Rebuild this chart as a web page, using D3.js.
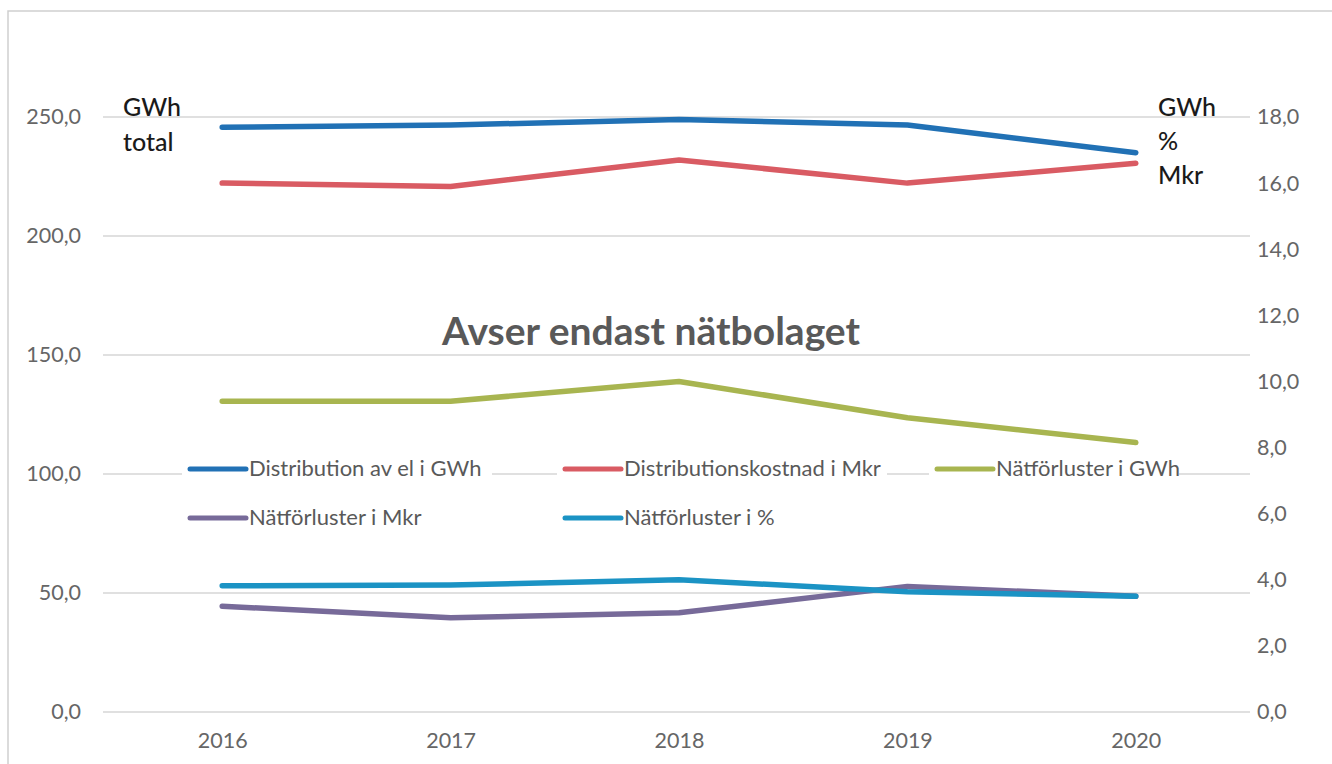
<!DOCTYPE html>
<html>
<head>
<meta charset="utf-8">
<script src="https://cdn.jsdelivr.net/npm/d3@7"></script>
<style>
  body { margin: 0; background: #fff; }
  svg { display: block; font-family: Lato, "Open Sans", sans-serif; }
</style>
</head>
<body>
<div id="graph"></div>
<script>
const years = ["2016", "2017", "2018", "2019", "2020"];

// left axis (GWh total)
const distributionGWh = [245.7, 246.6, 249.0, 246.6, 235.0];
// right axis (GWh, %, Mkr)
const distributionskostnadMkr = [16.0, 15.9, 16.7, 16.0, 16.6];
const natforlusterGWh = [9.4, 9.4, 10.0, 8.9, 8.15];
const natforlusterMkr = [3.2, 2.85, 3.0, 3.8, 3.5];
const natforlusterPct = [3.82, 3.84, 4.0, 3.64, 3.5];

const leftTicks = [0, 50, 100, 150, 200, 250];
const rightTicks = [0, 2, 4, 6, 8, 10, 12, 14, 16, 18];

const series = [
  { name: "Distribution av el i GWh", values: distributionGWh, axis: "left", color: "#2171b5" },
  { name: "Distributionskostnad i Mkr", values: distributionskostnadMkr, axis: "right", color: "#d95b63" },
  { name: "Nätförluster i GWh", values: natforlusterGWh, axis: "right", color: "#a8b550" },
  { name: "Nätförluster i Mkr", values: natforlusterMkr, axis: "right", color: "#776a99" },
  { name: "Nätförluster i %", values: natforlusterPct, axis: "right", color: "#1b93c4" }
];

const width = 1332;
const height = 764;
const plotLeft = 108;
const plotRight = 1250;
const plotTop = 117;
const plotBottom = 712;

const x = d3.scalePoint().domain(years).range([plotLeft, plotRight]).padding(0.5);
const yLeft = d3.scaleLinear().domain([0, 250]).range([plotBottom, plotTop]);
const yRight = d3.scaleLinear().domain([0, 18]).range([plotBottom, plotTop]);
const fmt = d => d3.format(".1f")(d).replace(".", ",");

const svg = d3.create("svg")
  .attr("width", width)
  .attr("height", height);

// frame
svg.append("path")
  .attr("d", `M8,${height} V11 H${width}`)
  .attr("fill", "none")
  .attr("stroke", "#cfcfcf")
  .attr("stroke-width", 1.5);

// gridlines
svg.append("g")
  .selectAll("line")
  .data(leftTicks)
  .join("line")
  .attr("x1", 103)
  .attr("x2", plotRight)
  .attr("y1", d => yLeft(d))
  .attr("y2", d => yLeft(d))
  .attr("stroke", "#d6d6d6")
  .attr("stroke-width", 1.3);

// left axis
const leftAxis = svg.append("g")
  .attr("transform", `translate(81,0)`)
  .call(d3.axisLeft(yLeft).tickValues(leftTicks).tickFormat(fmt).tickSize(0).tickPadding(0));
leftAxis.select(".domain").remove();
leftAxis.selectAll("text")
  .attr("font-size", 21.5)
  .attr("fill", "#666")
  .attr("font-family", "Lato, sans-serif");

// right axis
const rightAxis = svg.append("g")
  .attr("transform", `translate(1257,0)`)
  .call(d3.axisRight(yRight).tickValues(rightTicks).tickFormat(fmt).tickSize(0).tickPadding(0));
rightAxis.select(".domain").remove();
rightAxis.selectAll("text")
  .attr("font-size", 21.5)
  .attr("fill", "#666")
  .attr("font-family", "Lato, sans-serif");

// x axis
const xAxis = svg.append("g")
  .attr("transform", `translate(0,${plotBottom + 21})`)
  .call(d3.axisBottom(x).tickSize(0).tickPadding(0));
xAxis.select(".domain").remove();
xAxis.selectAll("text")
  .attr("font-size", 21.5)
  .attr("fill", "#666")
  .attr("font-family", "Lato, sans-serif");

// title
svg.append("text")
  .attr("x", 651)
  .attr("y", 345)
  .attr("text-anchor", "middle")
  .attr("font-size", 39)
  .attr("font-weight", "bold")
  .attr("fill", "#595959")
  .text("Avser endast nätbolaget");

// unit labels
const unitLeft = ["GWh", "total"];
const unitRight = ["GWh", "%", "Mkr"];
svg.append("g").selectAll("text")
  .data(unitLeft)
  .join("text")
  .attr("x", 123)
  .attr("y", (d, i) => 116 + i * 35)
  .attr("font-size", 25)
  .attr("font-weight", 500)
  .attr("fill", "#1a1a1a")
  .text(d => d);
svg.append("g").selectAll("text")
  .data(unitRight)
  .join("text")
  .attr("x", 1158)
  .attr("y", (d, i) => 116 + i * 34)
  .attr("font-size", 25)
  .attr("font-weight", 500)
  .attr("fill", "#1a1a1a")
  .text(d => d);

// legend
const legendPos = [[190, 469], [565, 469], [937, 469], [190, 518], [565, 518]];
const legend = svg.append("g")
  .selectAll("g")
  .data(series)
  .join("g")
  .attr("transform", (d, i) => `translate(${legendPos[i][0]},${legendPos[i][1]})`);
legend.append("rect")
  .attr("x", -8)
  .attr("y", -13)
  .attr("width", d => d.name.length * 10 + 70)
  .attr("height", 26)
  .attr("fill", "#fff");
legend.append("line")
  .attr("x1", 0)
  .attr("x2", 56)
  .attr("stroke", d => d.color)
  .attr("stroke-width", 5)
  .attr("stroke-linecap", "round");
legend.append("text")
  .attr("x", 59)
  .attr("y", 7)
  .attr("font-size", 22)
  .attr("fill", "#595959")
  .text(d => d.name);

// lines
const line = d3.line();
svg.append("g")
  .selectAll("path")
  .data(series)
  .join("path")
  .attr("fill", "none")
  .attr("stroke", d => d.color)
  .attr("stroke-width", 5.5)
  .attr("stroke-linecap", "round")
  .attr("stroke-linejoin", "round")
  .attr("d", d => {
    const yScale = d.axis === "left" ? yLeft : yRight;
    return line(d.values.map((v, i) => [x(years[i]), yScale(v)]));
  });

d3.select("#graph").append(() => svg.node());
</script>
</body>
</html>
